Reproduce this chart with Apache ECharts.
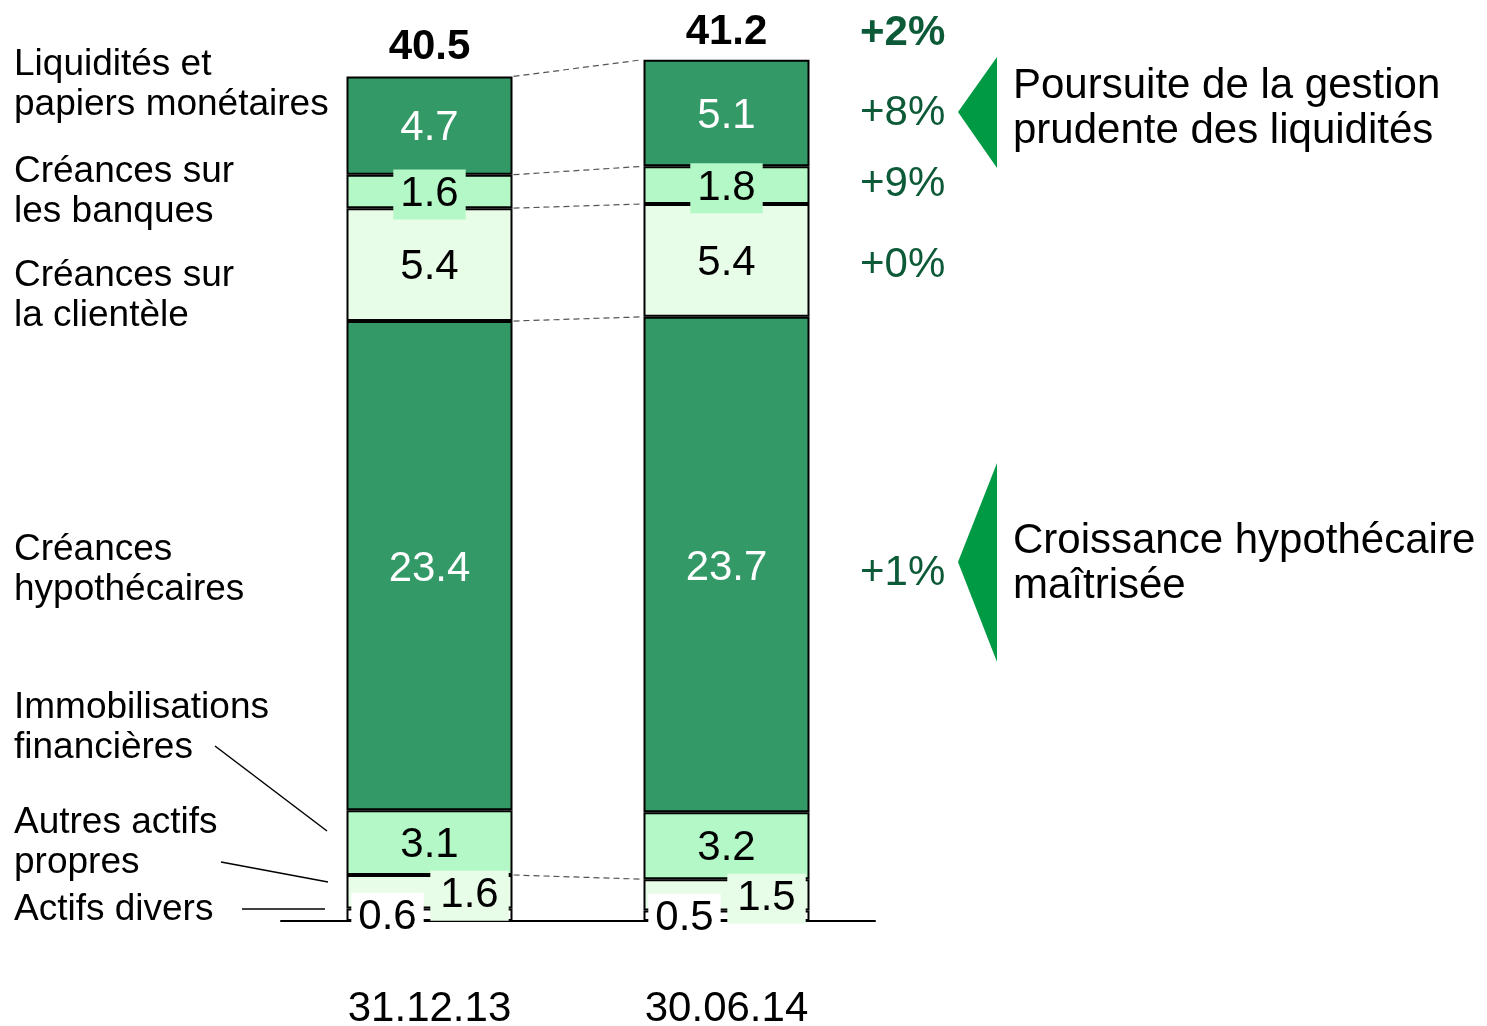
<!DOCTYPE html>
<html>
<head>
<meta charset="utf-8">
<script src="https://cdn.jsdelivr.net/npm/echarts@6/dist/echarts.min.js"></script>
<style>
html, body { margin: 0; padding: 0; background: #fff; }
#chart { width: 1487px; height: 1026px; }
</style>
</head>
<body>
<div id="chart"></div>
<script>
// valeurs en milliards, du bas vers le haut de la pile
const categories = ['31.12.13', '30.06.14'];
const totals = [40.5, 41.2];
const actifsDivers = [0.6, 0.5];
const autresActifs = [1.6, 1.5];
const immobilisations = [3.1, 3.2];
const hypothecaires = [23.4, 23.7];
const clientele = [5.4, 5.4];
const banques = [1.6, 1.8];
const liquidites = [4.7, 5.1];
// variations : total, liquidités, banques, clientèle, hypothécaires
const variations = ['+2%', '+8%', '+9%', '+0%', '+1%'];

const FONT = 'Arial, "Liberation Sans", sans-serif';
const DARK = '#339966';
const LIGHT = '#b3f8c6';
const PALE = '#e8fde8';
const BAR_W = 166;

function seg(name, data, color, label) {
    return {
        name: name,
        type: 'bar',
        stack: 'actifs',
        data: data,
        barWidth: BAR_W,
        barGap: '-100%',
        silent: true,
        itemStyle: { color: color, borderColor: '#000', borderWidth: 2 },
        label: Object.assign({
            show: true,
            position: 'inside',
            offset: [0, 3],
            fontSize: 42,
            fontFamily: FONT,
            color: '#000',
        }, label || {}),
    };
}

let chart = echarts.init(document.getElementById('chart'));

let option = {
    animation: false,
    backgroundColor: '#fff',
    grid: { left: 281, right: 612, top: 43, bottom: 105, outerBoundsMode: 'none', containLabel: false },
    xAxis: {
        type: 'category',
        data: categories,
        axisLine: { lineStyle: { color: '#000', width: 2 } },
        axisTick: { show: false },
        axisLabel: { color: '#000', fontSize: 42, fontFamily: FONT, margin: 67 },
    },
    yAxis: {
        type: 'value',
        min: 0,
        max: 42,
        show: false,
        splitLine: { show: false },
    },
    series: [
        seg('Actifs divers', actifsDivers, '#ffffff', {
            offset: [-42, 3], backgroundColor: '#fff', padding: [4, 7],
        }),
        seg('Autres actifs propres', autresActifs, PALE, {
            offset: [40, 4], backgroundColor: PALE, padding: [4, 10],
        }),
        seg('Immobilisations financières', immobilisations, LIGHT),
        seg('Créances hypothécaires', hypothecaires, DARK, { color: '#fff', offset: [0, 4] }),
        seg('Créances sur la clientèle', clientele, PALE),
        seg('Créances sur les banques', banques, LIGHT, {
            backgroundColor: LIGHT, padding: [4, 7],
        }),
        seg('Liquidités et papiers monétaires', liquidites, DARK, { color: '#fff' }),
        {
            name: 'Total',
            type: 'bar',
            data: totals,
            barWidth: BAR_W,
            barGap: '-100%',
            silent: true,
            z: 1,
            itemStyle: { color: 'rgba(0,0,0,0)' },
            label: {
                show: true,
                position: 'top',
                distance: 6,
                fontSize: 42,
                fontWeight: 'bold',
                fontFamily: FONT,
                color: '#000',
            },
        },
    ],
};
chart.setOption(option);

// cumuls pour les traits pointillés et les variations
const stackOrder = [actifsDivers, autresActifs, immobilisations, hypothecaires, clientele, banques, liquidites];
const cum = categories.map((c, i) => {
    let s = 0;
    return stackOrder.map(arr => (s += arr[i]));
});

function px(i, v) {
    return chart.convertToPixel({ gridIndex: 0 }, [i, v]);
}

let graphics = [];

// traits pointillés entre les deux colonnes
[1, 3, 4, 5, 6].forEach(k => {
    let a = px(0, cum[0][k]);
    let b = px(1, cum[1][k]);
    graphics.push({
        type: 'line',
        silent: true,
        shape: { x1: a[0] + BAR_W / 2 + 1, y1: a[1], x2: b[0] - BAR_W / 2 - 1, y2: b[1] },
        style: { stroke: '#555', lineWidth: 1.2, lineDash: [6, 4] },
    });
});

// variations à droite
let varY = [
    px(1, totals[1])[1] - 26,
    px(1, cum[1][5] + liquidites[1] / 2)[1] + 0,
    px(1, cum[1][4] + banques[1] / 2)[1] - 1,
    px(1, cum[1][3] + clientele[1] / 2)[1] + 5,
    px(1, cum[1][2] + hypothecaires[1] / 2)[1] + 9,
];
variations.forEach((t, i) => {
    graphics.push({
        type: 'text',
        silent: true,
        style: {
            text: t, x: 860, y: varY[i],
            fill: '#0d5a38',
            fontSize: 42,
            fontWeight: i === 0 ? 'bold' : 'normal',
            fontFamily: FONT,
            verticalAlign: 'middle',
        },
    });
});

// libellés à gauche
const leftLabels = [
    ['Liquidités et\npapiers monétaires', 85],
    ['Créances sur\nles banques', 192],
    ['Créances sur\nla clientèle', 296],
    ['Créances\nhypothécaires', 570],
    ['Immobilisations\nfinancières', 728],
    ['Autres actifs\npropres', 843],
    ['Actifs divers', 910],
];
leftLabels.forEach(l => {
    graphics.push({
        type: 'text',
        silent: true,
        style: {
            text: l[0], x: 14, y: l[1],
            fill: '#000', fontSize: 37, fontFamily: FONT,
            lineHeight: 40, verticalAlign: 'middle',
        },
    });
});

// traits de rappel
[[215, 746, 327, 831], [221, 862, 328, 882], [242, 909, 325, 909]].forEach(p => {
    graphics.push({
        type: 'line',
        silent: true,
        shape: { x1: p[0], y1: p[1], x2: p[2], y2: p[3] },
        style: { stroke: '#000', lineWidth: 1.5 },
    });
});

// flèches et commentaires
graphics.push({
    type: 'polygon', silent: true,
    shape: { points: [[958, 112], [997, 57], [997, 168]] },
    style: { fill: '#009a44' },
});
graphics.push({
    type: 'polygon', silent: true,
    shape: { points: [[958, 562], [997, 463], [997, 662]] },
    style: { fill: '#009a44' },
});
graphics.push({
    type: 'text', silent: true,
    style: {
        text: 'Poursuite de la gestion\nprudente des liquidités', x: 1013, y: 109,
        fill: '#000', fontSize: 42, fontFamily: FONT, lineHeight: 45, verticalAlign: 'middle',
    },
});
graphics.push({
    type: 'text', silent: true,
    style: {
        text: 'Croissance hypothécaire\nmaîtrisée', x: 1013, y: 564,
        fill: '#000', fontSize: 42, fontFamily: FONT, lineHeight: 45, verticalAlign: 'middle',
    },
});

chart.setOption({ graphic: graphics });
window.addEventListener('resize', chart.resize);
</script>
</body>
</html>
